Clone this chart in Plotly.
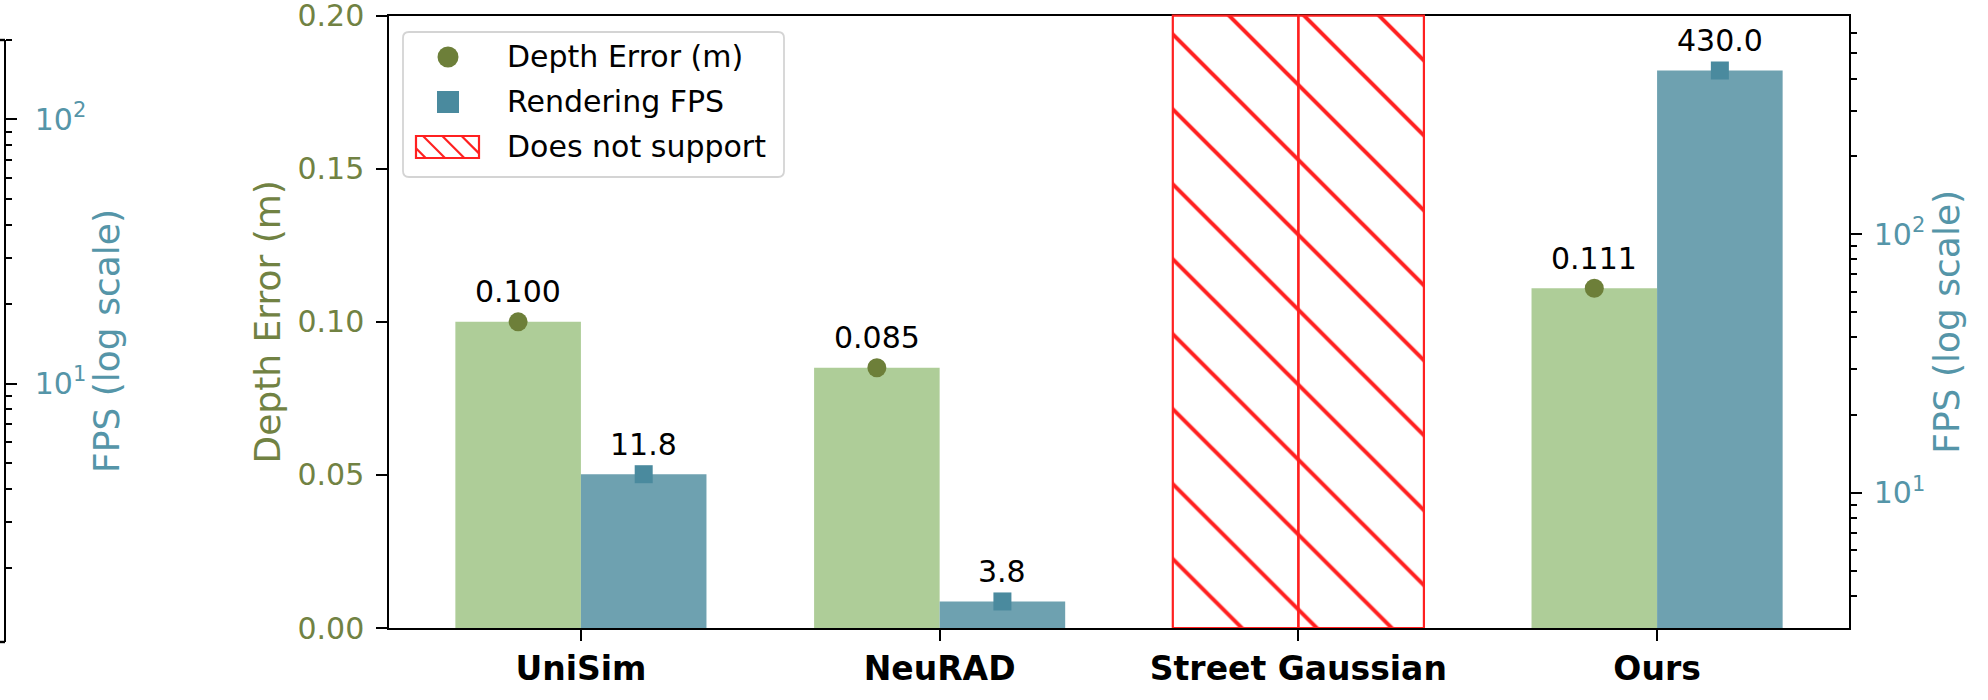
import math
import plotly.graph_objects as go

W, H = 1988, 700

# ---- data -------------------------------------------------------------
methods = ["UniSim", "NeuRAD", "Street Gaussian", "Ours"]
depth_error = [0.100, 0.085, None, 0.111]      # metres
render_fps = [11.8, 3.8, None, 430.0]          # frames per second
unsupported = [False, False, True, False]

depth_ticks = [0.00, 0.05, 0.10, 0.15, 0.20]
depth_range = [0.0, 0.20]
fps_range = [3, 700]
fps_major = [10, 100]
fps_major_text = ["10<sup>1</sup>", "10<sup>2</sup>"]
fps_minor = [4, 5, 6, 7, 8, 9, 20, 30, 40, 50, 60, 70, 80, 90, 200, 300, 400, 500, 600]
side_fps_range = [1.05, 200]
side_fps_minor = [2, 3, 4, 5, 6, 7, 8, 9, 20, 30, 40, 50, 60, 70, 80, 90, 200]

# ---- style ------------------------------------------------------------
FONT = "DejaVu Sans"
GREEN_BAR = "#aecd98"
BLUE_BAR = "#6ea1b0"
OLIVE = "#6d7f39"
OLIVE_TXT = "#718243"
TEAL = "#4a8a9e"
TEAL_TXT = "#5595a8"
RED = "#ff2020"
BAR_W = 0.35
SPINE = 2.4

# plot area in pixels
PLOT_L, PLOT_R, PLOT_T, PLOT_B = 389, 1849, 15.7, 628


def px(x):
    return x / W


def py(y):
    return 1 - y / H


fig = go.Figure()

idx = list(range(len(methods)))

# depth bars (left axis)
dx = [i - BAR_W / 2 for i, v in zip(idx, depth_error) if v is not None]
dy = [v for v in depth_error if v is not None]
fig.add_trace(go.Bar(x=dx, y=dy, width=BAR_W, marker=dict(color=GREEN_BAR, line=dict(width=0)),
                     yaxis="y", showlegend=False, hoverinfo="skip"))

# fps bars (right, log axis)
fx = [i + BAR_W / 2 for i, v in zip(idx, render_fps) if v is not None]
fy = [v for v in render_fps if v is not None]
fig.add_trace(go.Bar(x=fx, y=fy, width=BAR_W, marker=dict(color=BLUE_BAR, line=dict(width=0)),
                     yaxis="y2", showlegend=False, hoverinfo="skip"))

# hatched full-height placeholders for methods without support; they live on a
# hidden helper axis whose domain reaches the top of the figure, which fixes
# where the hatch pattern tiles start
hatch = dict(color="rgba(0,0,0,0)", line=dict(color=RED, width=2.2),
             pattern=dict(shape="\\", fgcolor=RED, bgcolor="rgba(0,0,0,0)", fgopacity=1,
                          size=53, solidity=0.075, fillmode="overlay"))
ux = [i for i, u in zip(idx, unsupported) if u]
hatch_x = [i - BAR_W / 2 for i in ux] + [i + BAR_W / 2 for i in ux]
fig.add_trace(go.Bar(x=hatch_x, y=[depth_range[1]] * len(hatch_x), width=BAR_W,
                     marker=hatch, yaxis="y4", showlegend=False, hoverinfo="skip"))

# value markers
fig.add_trace(go.Scatter(x=dx, y=dy, mode="markers", yaxis="y",
                         marker=dict(symbol="circle", size=19, color=OLIVE),
                         showlegend=False, hoverinfo="skip"))
fig.add_trace(go.Scatter(x=fx, y=fy, mode="markers", yaxis="y2",
                         marker=dict(symbol="square", size=18, color=TEAL),
                         showlegend=False, hoverinfo="skip"))

# axis of the neighbouring panel on the far left
fig.add_trace(go.Scatter(x=[None], y=[None], yaxis="y3", showlegend=False, hoverinfo="skip"))

annotations = []
for x, v in zip(dx, dy):
    annotations.append(dict(x=x, y=v, xref="x", yref="y", text=f"{v:.3f}", showarrow=False,
                            yshift=30, yanchor="middle", font=dict(family=FONT, size=30, color="black")))
for x, v in zip(fx, fy):
    annotations.append(dict(x=x, y=math.log10(v), xref="x", yref="y2", text=f"{v:.1f}", showarrow=False,
                            yshift=30, yanchor="middle", font=dict(family=FONT, size=30, color="black")))

# ---- legend -----------------------------------------------------------
shapes = []
lx0, lx1, ly0, ly1, r = 403, 784, 32, 177, 6
path = (f"M{px(lx0 + r)},{py(ly0)} L{px(lx1 - r)},{py(ly0)} Q{px(lx1)},{py(ly0)} {px(lx1)},{py(ly0 + r)} "
        f"L{px(lx1)},{py(ly1 - r)} Q{px(lx1)},{py(ly1)} {px(lx1 - r)},{py(ly1)} "
        f"L{px(lx0 + r)},{py(ly1)} Q{px(lx0)},{py(ly1)} {px(lx0)},{py(ly1 - r)} "
        f"L{px(lx0)},{py(ly0 + r)} Q{px(lx0)},{py(ly0)} {px(lx0 + r)},{py(ly0)} Z")
shapes.append(dict(type="path", path=path, xref="paper", yref="paper",
                   fillcolor="rgba(255,255,255,0.8)", line=dict(color="#d4d4d4", width=1.8)))

mx = 448
shapes.append(dict(type="circle", xref="paper", yref="paper", x0=px(mx - 10.5), x1=px(mx + 10.5),
                   y0=py(57 + 10.5), y1=py(57 - 10.5), fillcolor=OLIVE, line=dict(width=0)))
shapes.append(dict(type="rect", xref="paper", yref="paper", x0=px(mx - 11), x1=px(mx + 11),
                   y0=py(102 + 11), y1=py(102 - 11), fillcolor=TEAL, line=dict(width=0)))
hx0, hx1, hy0, hy1 = 416, 479, 136, 158
shapes.append(dict(type="rect", xref="paper", yref="paper", x0=px(hx0), x1=px(hx1),
                   y0=py(hy1), y1=py(hy0), fillcolor="rgba(0,0,0,0)", line=dict(color=RED, width=2.2)))
step = 19.3
for k in range(-1, 3):
    c = hy0 - (423 + k * step)          # line: y = x + c
    xa = max(hx0, hy0 - c)
    xb = min(hx1, hy1 - c)
    if xb > xa:
        shapes.append(dict(type="line", xref="paper", yref="paper", x0=px(xa), y0=py(xa + c),
                           x1=px(xb), y1=py(xb + c), line=dict(color=RED, width=2.2)))

legend_labels = ["Depth Error (m)", "Rendering FPS", "Does not support"]
for lab, yc in zip(legend_labels, [57, 102, 147]):
    annotations.append(dict(x=px(505), y=py(yc), xref="paper", yref="paper", text=lab, showarrow=False,
                            xanchor="left", yanchor="middle", font=dict(family=FONT, size=30, color="black")))

# frame stubs of the neighbouring panel
for yy in (40, 642):
    shapes.append(dict(type="line", xref="paper", yref="paper", x0=0, x1=px(5), y0=py(yy), y1=py(yy),
                       line=dict(color="black", width=SPINE)))

axis_common = dict(showgrid=False, zeroline=False, showline=True, linecolor="black", linewidth=SPINE,
                   ticks="outside", ticklen=10.5, tickwidth=SPINE, tickcolor="black",
                   ticklabeloverflow="allow")
minor_style = dict(ticks="outside", ticklen=6, tickwidth=1.8, tickcolor="black")

# helper axis: same scale as the depth axis, domain extended to the figure top
helper_top = depth_range[1] * (PLOT_B - 0) / (PLOT_B - PLOT_T)

fig.update_layout(
    width=W, height=H,
    margin=dict(l=0, r=0, t=0, b=0, autoexpand=False),
    paper_bgcolor="white", plot_bgcolor="rgba(0,0,0,0)",
    barmode="overlay", showlegend=False,
    font=dict(family=FONT, size=30, color="black"),
    xaxis=dict(domain=[px(PLOT_L), px(PLOT_R)], range=[-0.535, 3.535], tickvals=idx, ticktext=methods,
               tickfont=dict(family=FONT, size=33, color="black", weight="bold"), mirror=True,
               anchor="y", **axis_common),
    yaxis=dict(domain=[py(PLOT_B), py(PLOT_T)], range=depth_range, tickvals=depth_ticks, tickformat=".2f",
               tickfont=dict(family=FONT, size=30, color=OLIVE_TXT), ticklabelstandoff=6,
               title=dict(text="Depth Error (m)", font=dict(family=FONT, size=36, color=OLIVE_TXT), standoff=6),
               anchor="x", **axis_common),
    yaxis2=dict(overlaying="y", side="right", anchor="x", type="log",
                range=[math.log10(fps_range[0]), math.log10(fps_range[1])],
                tickvals=fps_major, ticktext=fps_major_text, ticklabelstandoff=6,
                minor=dict(tickvals=fps_minor, **minor_style),
                tickfont=dict(family=FONT, size=30, color=TEAL_TXT),
                title=dict(text="FPS (log scale)", font=dict(family=FONT, size=36, color=TEAL_TXT), standoff=10),
                **axis_common),
    yaxis3=dict(anchor="free", position=px(5), side="right", type="log",
                domain=[py(642), py(40)],
                range=[math.log10(side_fps_range[0]), math.log10(side_fps_range[1])],
                tickvals=fps_major, ticktext=fps_major_text, ticklabelstandoff=12,
                minor=dict(tickvals=side_fps_minor, **minor_style),
                tickfont=dict(family=FONT, size=30, color=TEAL_TXT),
                title=dict(text="FPS (log scale)", font=dict(family=FONT, size=36, color=TEAL_TXT), standoff=2),
                **axis_common),
    yaxis4=dict(domain=[py(PLOT_B), 1.0], range=[0, helper_top], visible=False, anchor="x",
                showgrid=False, zeroline=False),
    shapes=shapes,
    annotations=annotations,
)

fig.write_html("out.html")
